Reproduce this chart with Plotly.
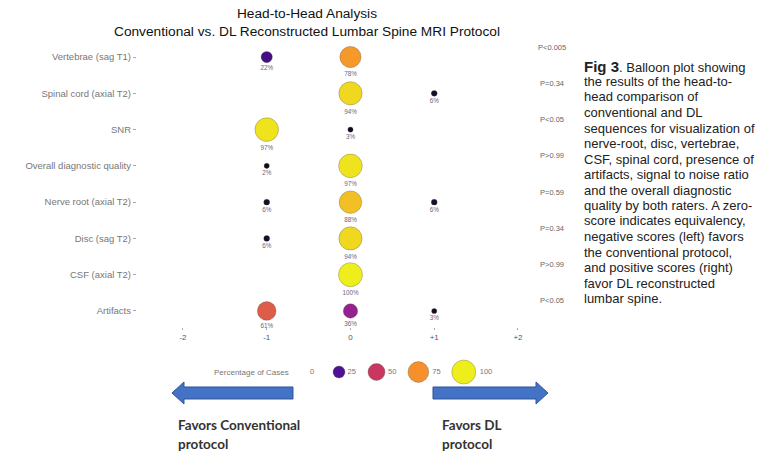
import plotly.graph_objects as go

# ---------------- data ----------------
categories = ["Vertebrae (sag T1)", "Spinal cord (axial T2)", "SNR",
              "Overall diagnostic quality", "Nerve root (axial T2)",
              "Disc (sag T2)", "CSF (axial T2)", "Artifacts"]
scores = [-1, 0, 1]
pct_conventional = [22, None, 97, 2, 6, 6, None, 61]      # score -1
pct_equivalent = [78, 94, 3, 97, 88, 94, 100, 36]         # score 0
pct_dl = [None, 6, None, None, 6, None, None, 3]          # score +1
p_values = ["P<0.005", "P=0.34", "P<0.05", "P>0.99",
            "P=0.59", "P=0.34", "P>0.99", "P<0.05"]
x_tick_vals = [-2, -1, 0, 1, 2]
x_tick_text = ["-2", "-1", "0", "+1", "+2"]
legend_values = [0, 25, 50, 75, 100]
legend_title = "Percentage of Cases"
title_lines = ["Head-to-Head Analysis",
               "Conventional vs. DL Reconstructed Lumbar Spine MRI Protocol"]
caption_lines = [
    "<b><span style='font-size:15px'>Fig 3</span></b>. Balloon plot showing",
    "the results of the head-to-",
    "head comparison of",
    "conventional and DL",
    "sequences for visualization of",
    "nerve-root, disc, vertebrae,",
    "CSF, spinal cord, presence of",
    "artifacts, signal to noise ratio",
    "and the overall diagnostic",
    "quality by both raters. A zero-",
    "score indicates equivalency,",
    "negative scores (left) favors",
    "the conventional protocol,",
    "and positive scores (right)",
    "favor DL reconstructed",
    "lumbar spine.",
]
favor_left = ["Favors Conventional", "protocol"]
favor_right = ["Favors DL", "protocol"]

# ---------------- helpers ----------------
W, H = 757, 452
def fx(px):
    return px / W
def fy(py):
    return 1 - py / H

MAX_DIAM = 24
SIZEREF = 2 * 100 / MAX_DIAM ** 2
FONT = "Arial, Liberation Sans, sans-serif"
COLORSCALE = [[0.0, "#0a0a0a"], [0.25, "#4e1194"], [0.36, "#95208f"], [0.5, "#c9365f"],
              [0.75, "#f68f2c"], [1.0, "#eeee1c"]]

fig = go.Figure()

xs, ys, vals = [], [], []
for score, series in zip(scores, [pct_conventional, pct_equivalent, pct_dl]):
    for cat, v in zip(categories, series):
        if v is not None:
            xs.append(score)
            ys.append(cat)
            vals.append(v)

fig.add_trace(go.Scatter(
    x=xs, y=ys, mode="markers+text",
    text=[f"{v}%" for v in vals], textposition="bottom center",
    textfont=dict(size=6.3, color="#6b6480", family=FONT),
    marker=dict(size=vals, sizemode="area", sizeref=SIZEREF, sizemin=2.6,
                color=vals, colorscale=COLORSCALE, cmin=0, cmax=100, opacity=1,
                line=dict(color="rgba(70,70,70,0.5)", width=0.6)),
    cliponaxis=False, showlegend=False, hoverinfo="skip",
    xaxis="x", yaxis="y"))

# size legend: keys laid out in a pixel-unit axis, spaced by their drawn diameters
diam = [(v / 100) ** 0.5 * MAX_DIAM for v in legend_values]
key_gap = 23
key_x = [310.0]
for i in range(1, len(legend_values)):
    key_x.append(key_x[-1] + (diam[i - 1] + diam[i]) / 2 + key_gap)

fig.add_trace(go.Scatter(
    x=key_x, y=[0] * len(legend_values),
    mode="markers+text", text=[str(v) for v in legend_values],
    textposition="middle right",
    textfont=dict(size=7.5, color="#777", family=FONT),
    marker=dict(size=legend_values, sizemode="area", sizeref=SIZEREF, sizemin=0,
                color=legend_values, colorscale=COLORSCALE, cmin=0, cmax=100, opacity=1,
                line=dict(color="rgba(70,70,70,0.5)", width=0.6)),
    cliponaxis=False, showlegend=False, hoverinfo="skip",
    xaxis="x2", yaxis="y2"))

annotations = []
# title
annotations.append(dict(text="<br>".join(title_lines), x=fx(307), y=fy(22.5),
                        xref="paper", yref="paper", xanchor="center", yanchor="middle",
                        showarrow=False, font=dict(size=13.7, color="#111", family=FONT)))
# p values
for cat, p in zip(categories, p_values):
    annotations.append(dict(text=p, x=2.41, y=cat, xref="x", yref="y", yshift=10,
                            xanchor="center", yanchor="middle", showarrow=False,
                            font=dict(size=7.5, color="#666", family=FONT)))
# legend title
annotations.append(dict(text=legend_title, x=fx(251), y=fy(372), xref="paper", yref="paper",
                        xanchor="center", yanchor="middle", showarrow=False,
                        font=dict(size=8, color="#777", family=FONT)))
# favors texts
for i, line in enumerate(favor_left):
    annotations.append(dict(text=f"<b>{line}</b>", x=fx(176), y=fy(425 + i * 19),
                            xref="paper", yref="paper", xanchor="left", yanchor="middle",
                            showarrow=False, font=dict(size=13.5, color="#333", family="Lato, sans-serif")))
for i, line in enumerate(favor_right):
    annotations.append(dict(text=f"<b>{line}</b>", x=fx(440), y=fy(425 + i * 19),
                            xref="paper", yref="paper", xanchor="left", yanchor="middle",
                            showarrow=False, font=dict(size=13.5, color="#333", family="Lato, sans-serif")))
# caption
for i, line in enumerate(caption_lines):
    annotations.append(dict(text=line, x=fx(582), y=fy(66 + i * 15.5),
                            xref="paper", yref="paper", xanchor="left", yanchor="middle",
                            showarrow=False, font=dict(size=13, color="#222", family=FONT)))

def arrow_path(pts):
    return "M " + " L ".join(f"{fx(x):.5f},{fy(y):.5f}" for x, y in pts) + " Z"

left_arrow = [(172, 393), (184, 382), (184, 387), (293, 387), (293, 399), (184, 399), (184, 404)]
right_arrow = [(548, 393), (536, 382), (536, 387), (433, 387), (433, 399), (536, 399), (536, 404)]
shapes = [dict(type="path", path=arrow_path(p), xref="paper", yref="paper",
               fillcolor="#4472C4", line=dict(color="#2f5597", width=1))
          for p in (left_arrow, right_arrow)]

fig.update_layout(
    width=W, height=H, margin=dict(l=0, r=0, t=0, b=0),
    paper_bgcolor="white", plot_bgcolor="white",
    font=dict(family=FONT),
    xaxis=dict(domain=[fx(136.9), fx(580.8)], range=[-2.55, 2.75],
               tickvals=x_tick_vals, ticktext=x_tick_text, showgrid=False,
               zeroline=False, showline=False, ticks="outside", ticklen=2,
               tickcolor="#aaa", tickfont=dict(size=8, color="#555")),
    yaxis=dict(domain=[fy(327.3), fy(38.9)], type="category",
               categoryorder="array", categoryarray=categories,
               range=[7.45, -0.5], showgrid=False, zeroline=False, showline=False,
               ticks="outside", ticklen=3, tickcolor="#aaa",
               tickfont=dict(size=9.5, color="#777")),
    xaxis2=dict(domain=[fx(250), fx(510)], range=[250, 510],
                visible=False, anchor="y2"),
    yaxis2=dict(domain=[fy(384), fy(360)], range=[-1, 1], visible=False, anchor="x2"),
    annotations=annotations, shapes=shapes,
)

fig.write_html("out.html", config={"displayModeBar": False},
               post_script="document.body.style.margin='0px';document.body.style.padding='0px';")
